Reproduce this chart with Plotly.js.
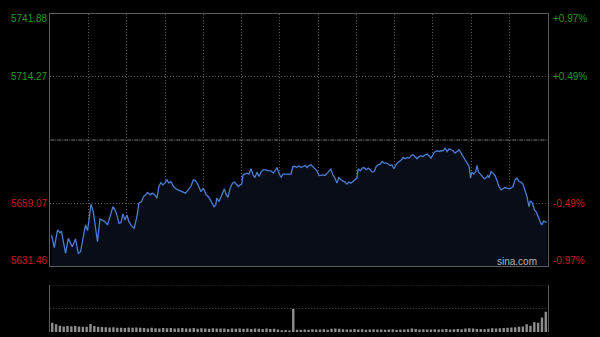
<!DOCTYPE html>
<html>
<head>
<meta charset="utf-8">
<script src="https://cdn.plot.ly/plotly-3.0.1.min.js"></script>
<style>
html,body{margin:0;padding:0;background:#000;}
#chart{width:600px;height:337px;}
</style>
</head>
<body>
<div id="chart"></div>
<script>
// Minutes since open (0..390) and index level
const timeMin = [1.0,3.1,5.7,7.6,8.8,10.2,12.0,14.1,16.2,17.2,19.8,21.9,23.7,25.8,27.6,29.2,30.3,31.9,33.7,35.0,
35.8,37.0,38.9,40.7,42.8,44.9,47.0,49.1,50.7,52.2,53.8,55.4,56.9,58.5,60.1,61.6,63.7,65.8,67.9,69.5,
71.5,73.1,74.7,76.2,78.3,79.9,82.0,83.6,85.1,86.7,88.3,89.8,91.4,93.0,94.5,96.6,98.9,101.6,104.2,106.0,
108.1,110.2,112.2,113.8,115.9,118.0,120.0,122.2,124.3,126.3,128.4,129.8,
130.5,132.3,134.5,136.5,137.8,139.2,141.0,142.8,144.3,145.9,147.5,149.0,150.1,151.1,152.7,154.3,155.8,157.4,159.0,160.5,
162.1,163.7,165.2,166.8,168.9,171.0,173.1,174.9,176.2,177.8,179.3,180.9,182.5,184.6,186.6,188.7,190.3,191.9,193.4,195.0,
196.6,198.1,199.7,201.3,202.8,204.4,206.0,207.5,209.1,210.7,212.2,213.8,215.4,216.9,218.5,220.0,221.6,223.2,224.7,226.3,
227.9,229.4,231.0,232.6,234.1,235.7,237.3,238.8,240.4,241.4,243.0,244.6,246.1,247.7,249.3,250.8,252.4,254.0,255.5,257.1,
258.7,260.2,261.8,
264.1,266.3,267.8,269.4,271.0,272.8,274.6,276.7,278.2,279.8,281.4,282.9,284.5,286.1,287.6,289.2,290.8,292.3,293.9,295.5,
297.0,298.6,300.2,301.7,303.3,304.9,306.4,308.0,309.6,311.1,312.7,314.3,315.8,317.4,319.0,320.5,322.1,323.7,325.2,326.8,
328.4,329.5,330.5,332.0,333.6,334.6,335.7,337.3,338.8,340.4,342.0,343.0,344.0,345.6,347.2,348.7,350.3,351.8,353.4,355.0,
356.5,358.1,359.7,361.2,362.8,364.4,365.9,367.5,369.1,370.6,372.2,373.8,375.3,376.4,378.0,379.6,381.1,382.7,384.3,385.3,
386.9,388.4,389.4];

const price = [5645.17,5639.61,5647.36,5646.18,5646.62,5642.98,5637.15,5643.73,5641.54,5640.05,
5643.42,5637.15,5637.86,5644.43,5649.55,5647.06,5651.00,5658.63,5655.38,5649.55,
5648.55,5642.24,5652.18,5651.75,5651.00,5649.55,5653.19,5657.57,5656.13,5653.94,
5650.30,5650.56,5654.37,5651.75,5653.94,5651.00,5649.12,5648.11,5653.19,5659.06,
5659.76,5661.96,5662.70,5663.71,5662.70,5663.45,5662.70,5661.25,5666.34,5668.09,
5667.08,5667.83,5669.27,5667.83,5668.53,5666.34,5665.20,5664.58,5664.15,5663.45,
5664.89,5666.34,5669.27,5668.97,5667.08,5664.15,5665.64,5662.70,5661.69,5659.76,
5657.57,5658.32,
5661.25,5659.76,5662.70,5665.33,5663.01,5661.52,5665.64,5667.83,5668.27,5667.39,
5666.34,5667.08,5667.39,5671.46,5671.77,5672.21,5671.77,5674.09,5671.46,5670.28,
5672.65,5670.72,5672.65,5673.66,5673.66,5673.22,5673.22,5672.21,5673.22,5674.66,
5672.21,5670.28,5671.77,5671.77,5671.77,5671.77,5675.10,5675.10,5674.66,5675.41,
5674.66,5675.10,5675.54,5674.66,5675.54,5675.85,5675.10,5674.40,5673.22,5671.16,
5671.46,5671.46,5671.16,5672.21,5672.91,5673.96,5671.46,5670.02,5667.83,5670.28,
5669.27,5668.84,5668.27,5667.39,5668.27,5667.83,5668.53,5669.27,5670.02,5674.09,
5673.22,5674.40,5674.66,5673.66,5674.40,5673.66,5672.65,5672.91,5675.10,5675.85,
5676.15,5677.29,5676.59,
5676.59,5675.54,5675.85,5674.09,5675.85,5677.03,5677.60,5679.05,5678.48,5679.05,
5678.78,5679.92,5680.23,5679.48,5678.48,5679.48,5679.79,5679.48,5680.23,5680.54,
5679.48,5678.78,5680.54,5681.67,5681.98,5681.67,5681.98,5681.98,5683.16,5681.67,
5682.86,5682.42,5681.98,5680.97,5681.67,5682.42,5680.97,5679.48,5677.60,5676.59,
5675.10,5670.02,5672.65,5671.77,5672.91,5675.54,5672.65,5671.77,5670.72,5669.71,
5670.28,5671.16,5670.28,5672.91,5672.21,5671.16,5668.84,5666.34,5664.89,5665.33,
5665.90,5665.64,5665.33,5665.64,5666.34,5669.27,5670.02,5668.53,5668.27,5667.39,
5664.89,5661.96,5657.57,5660.07,5659.06,5656.13,5655.12,5652.49,5650.74,5649.55,
5651.31,5650.74,5650.74];

// Volume in 3-minute buckets (bucket centre minute)
const volMin = [1.5,4.5,7.5,10.5,13.5,16.5,19.5,22.5,25.5,28.5,31.5,34.5,37.5,40.5,43.5,46.5,49.5,52.5,55.5,58.5,
61.5,64.5,67.5,70.5,73.5,76.5,79.5,82.5,85.5,88.5,91.5,94.5,97.5,100.5,103.5,106.5,109.5,112.5,115.5,118.5,
121.5,124.5,127.5,130.5,133.5,136.5,139.5,142.5,145.5,148.5,151.5,154.5,157.5,160.5,163.5,166.5,169.5,172.5,175.5,178.5,
181.5,184.5,187.5,190.5,193.5,196.5,199.5,202.5,205.5,208.5,211.5,214.5,217.5,220.5,223.5,226.5,229.5,232.5,235.5,238.5,
241.5,244.5,247.5,250.5,253.5,256.5,259.5,262.5,265.5,268.5,271.5,274.5,277.5,280.5,283.5,286.5,289.5,292.5,295.5,298.5,
301.5,304.5,307.5,310.5,313.5,316.5,319.5,322.5,325.5,328.5,331.5,334.5,337.5,340.5,343.5,346.5,349.5,352.5,355.5,358.5,
361.5,364.5,367.5,370.5,373.5,376.5,379.5,382.5,385.5,388.5];
const volume = [9.3,7.7,6.3,5.5,6.0,5.8,6.0,5.5,5.3,5.3,8.0,6.0,5.3,5.0,4.7,4.5,4.8,4.3,4.3,4.0,4.5,4.2,4.6,4.3,
4.0,3.6,4.2,3.8,3.5,4.0,3.7,3.9,3.4,3.8,4.1,3.6,3.5,3.9,3.3,3.7,3.6,3.2,3.8,3.5,3.4,3.6,3.1,3.5,3.3,3.6,3.2,3.4,3.0,3.5,3.3,3.1,3.4,3.0,3.2,2.6,1.8,
2.0,1.5,23.0,2.2,
2.3,2.6,2.2,2.8,2.5,2.4,2.7,2.3,3.3,3.6,3.2,2.8,2.5,2.6,2.9,2.4,2.7,2.3,2.5,2.8,2.4,2.6,2.2,2.5,2.7,2.3,2.6,2.4,2.8,3.4,2.9,2.5,2.7,2.4,2.6,2.8,2.5,2.7,2.9,2.6,2.8,3.0,2.7,
3.6,3.8,3.4,2.9,3.0,2.8,3.2,3.7,3.5,3.8,3.9,4.3,4.6,4.8,5.3,5.5,7.7,6.2,9.7,9.3,14.5,20.3];

const prevClose = 5686.67;
const yMin = 5631.46, yMax = 5741.88;
const leftLabels = ['5741.88','5714.27','5659.07','5631.46'];
const leftVals = [5741.88, 5714.27, 5659.07, 5631.46];
const rightLabels = ['+0.97%','+0.49%','-0.49%','-0.97%'];
const labelShift = [-4.7, 0, 0, 6];

const green = '#239b23', red = '#c81c1c';
const xd = [50.3/600, 547.7/600];

const annotations = [];
leftVals.forEach((v, i) => {
  const col = v > prevClose ? green : red;
  annotations.push({xref:'paper', yref:'y', x:49.6/600, y:v, xanchor:'right', yanchor:'middle',
    yshift: labelShift[i], text:leftLabels[i], showarrow:false,
    font:{family:'Liberation Sans, Arial, sans-serif', size:10, color:col}});
  annotations.push({xref:'paper', yref:'y', x:551.4/600, y:v, xanchor:'left', yanchor:'middle',
    yshift: labelShift[i], text:rightLabels[i], showarrow:false,
    font:{family:'Liberation Sans, Arial, sans-serif', size:10, color:col}});
});
annotations.push({xref:'paper', yref:'paper', x:539/600, y:(337-261)/337, xanchor:'right', yanchor:'middle',
  text:'sina.com', showarrow:false, font:{family:'Liberation Sans, Arial, sans-serif', size:10, color:'#b4b4b4'}});

const traces = [
  {x: timeMin, y: price, type:'scatter', mode:'lines', xaxis:'x', yaxis:'y',
   line:{color:'#4a7dd3', width:1.3}, fill:'tozeroy', fillcolor:'#080d18', hoverinfo:'skip'},
  {x: volMin, y: volume, type:'bar', xaxis:'x2', yaxis:'y2', width:1.9,
   marker:{color:'#8c8c8c', line:{width:0}}, hoverinfo:'skip'}
];

const layout = {
  width:600, height:337,
  margin:{l:0, r:0, t:0, b:0},
  paper_bgcolor:'#000', plot_bgcolor:'#000',
  showlegend:false,
  xaxis:{domain:xd, range:[0,390], anchor:'y', showticklabels:false, ticks:'',
    tick0:0, dtick:30, showgrid:true, gridcolor:'#5a5a5a', griddash:'1px,2px', gridwidth:1,
    zeroline:false, showline:true, mirror:true, linecolor:'#5c5c5c', linewidth:1, fixedrange:true},
  yaxis:{domain:[(337-266.3)/337, (337-13.8)/337], range:[yMin, yMax], anchor:'x',
    showticklabels:false, ticks:'', tickvals:[5714.27, 5659.07], showgrid:true,
    gridcolor:'#5a5a5a', griddash:'1px,2px', gridwidth:1, zeroline:false,
    showline:true, mirror:true, linecolor:'#5c5c5c', linewidth:1, fixedrange:true},
  xaxis2:{domain:xd, range:[0,390], anchor:'y2', showticklabels:false, ticks:'', showgrid:false,
    zeroline:false, showline:false, fixedrange:true},
  yaxis2:{domain:[5/337, 52/337], range:[0,47], anchor:'x2', showticklabels:false, ticks:'',
    showgrid:false, zeroline:false, showline:true, mirror:true, linecolor:'#5c5c5c', linewidth:1, fixedrange:true},
  shapes:[
    {type:'line', xref:'x', yref:'y', x0:0, x1:390, y0:prevClose, y1:prevClose,
     line:{color:'#7a7a7a', width:1, dash:'4px,1px,1px,1px'}, layer:'above'},
    {type:'line', xref:'x2', yref:'y2', x0:0, x1:390, y0:47, y1:47,
     line:{color:'#5a5a5a', width:1, dash:'1px,2px'}},
    {type:'line', xref:'x2', yref:'y2', x0:0, x1:390, y0:23.5, y1:23.5,
     line:{color:'#5a5a5a', width:1, dash:'1px,2px'}}
  ],
  annotations: annotations
};

Plotly.newPlot('chart', traces, layout, {staticPlot:true, displayModeBar:false});
</script>
</body>
</html>
